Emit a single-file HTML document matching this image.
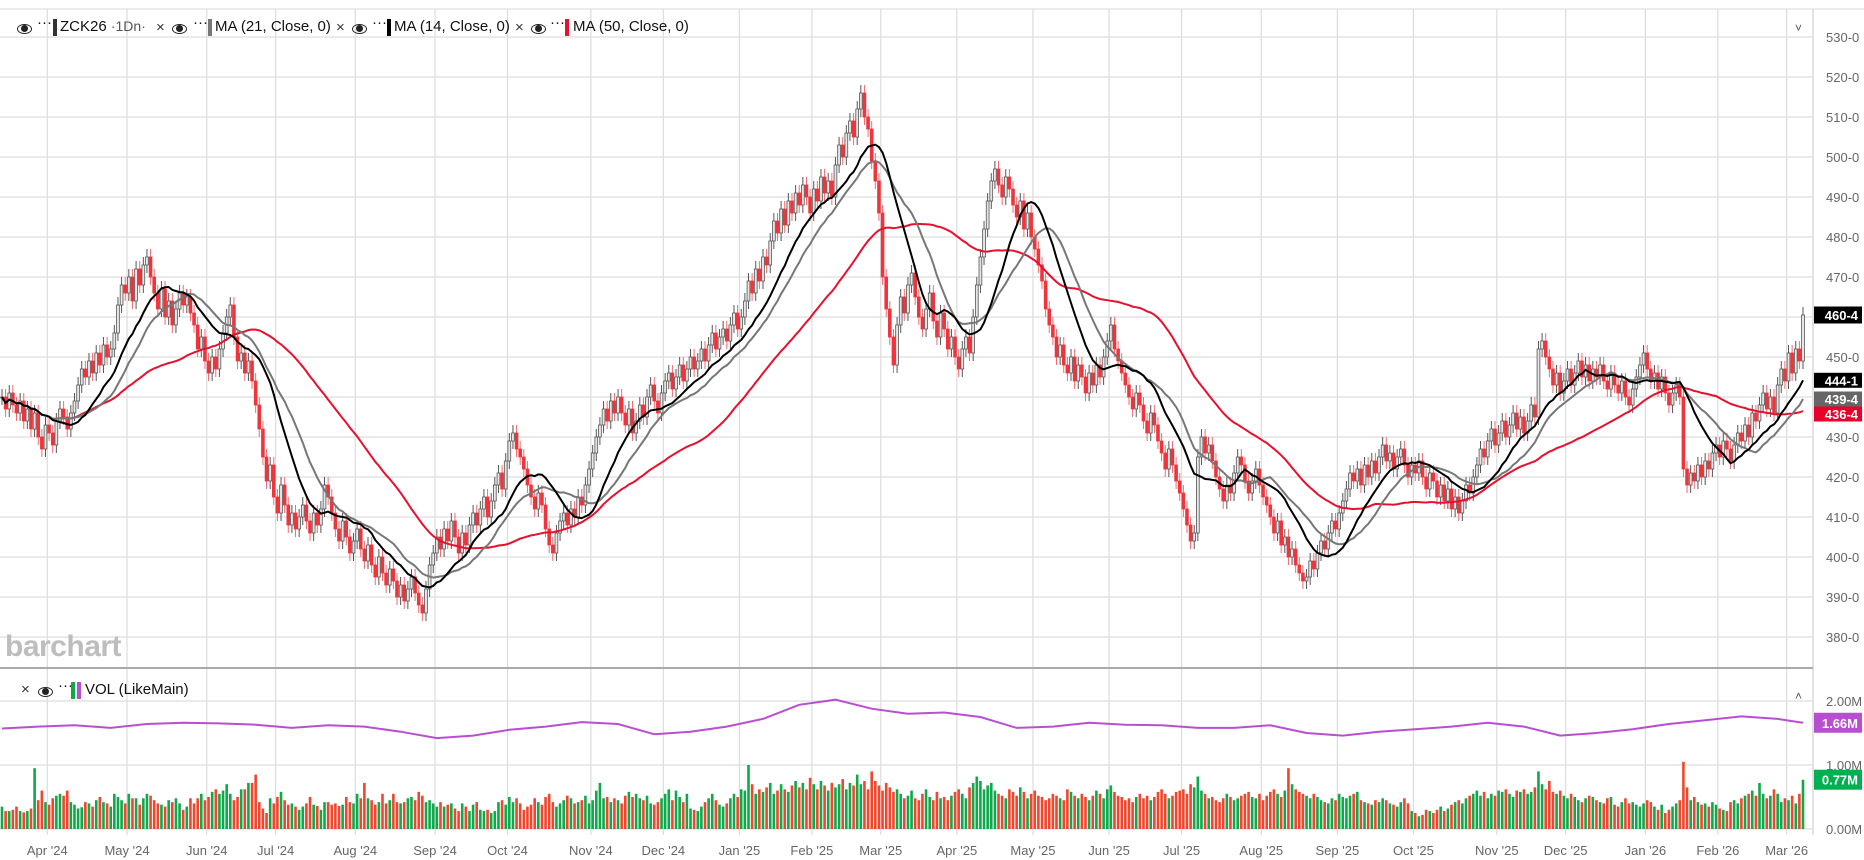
<!DOCTYPE html>
<html><head><meta charset="utf-8"><style>
html,body{margin:0;padding:0;background:#fff;}
body{width:1864px;height:860px;position:relative;overflow:hidden;font-family:"Liberation Sans",sans-serif;}
svg{position:absolute;left:0;top:0;}
.lg{position:absolute;font-size:15px;color:#111;white-space:nowrap;}
.eye{position:absolute;width:13px;height:8px;border:1.5px solid #222;border-radius:50%;}
.eye:after{content:"";position:absolute;left:3px;top:0px;width:7px;height:7px;border-radius:50%;background:#222;}
.sw{position:absolute;width:4px;height:17px;}
</style></head><body>
<svg id="chart" width="1864" height="860"></svg>

<div>
<span class="eye" style="left:17px;top:24px"></span>
<span class="lg" style="left:37px;top:14px">···</span>
<span class="sw" style="left:53px;top:19px;background:#333"></span>
<span class="lg" style="left:60px;top:18px">ZCK26 <span style="color:#555;font-size:14px">·1Dn·</span></span>
<span class="lg" style="left:156px;top:19px;color:#333">×</span>
<span class="eye" style="left:172px;top:24px"></span>
<span class="lg" style="left:193px;top:14px">···</span>
<span class="sw" style="left:208px;top:19px;background:#777"></span>
<span class="lg" style="left:215px;top:18px">MA (21, Close, 0)</span>
<span class="lg" style="left:336px;top:19px;color:#333">×</span>
<span class="eye" style="left:352px;top:24px"></span>
<span class="lg" style="left:372px;top:14px">···</span>
<span class="sw" style="left:387px;top:19px;background:#000"></span>
<span class="lg" style="left:394px;top:18px">MA (14, Close, 0)</span>
<span class="lg" style="left:515px;top:19px;color:#333">×</span>
<span class="eye" style="left:531px;top:24px"></span>
<span class="lg" style="left:550px;top:14px">···</span>
<span class="sw" style="left:565px;top:19px;background:#e8102e"></span>
<span class="lg" style="left:573px;top:18px">MA (50, Close, 0)</span>
</div>
<div>
<span class="lg" style="left:21px;top:681px;color:#333">×</span>
<span class="eye" style="left:38px;top:687px"></span>
<span class="lg" style="left:58px;top:677px">···</span>
<span class="sw" style="left:71px;top:682px;background:#0fa84a"></span>
<span class="sw" style="left:77px;top:682px;background:#b84fd0"></span>
<span class="lg" style="left:85px;top:681px">VOL (LikeMain)</span>
</div>
<div class="lg" style="left:5px;top:630px;font-size:30px;font-weight:bold;color:#bdbdbd;letter-spacing:-0.5px">barchart</div>

<script>
const closes=[440,437,441,438,436,439,434,437,432,436,
430,427,433,431,428,434,437,435,432,436,
439,443,447,445,449,446,451,448,453,450,
452,456,463,468,466,470,464,472,468,473,
475,470,466,462,467,460,464,458,462,466,
463,465,461,458,452,455,449,446,450,447,
452,456,460,463,455,449,451,446,449,444,
438,432,425,419,423,415,411,418,413,408,
411,407,410,413,409,406,411,408,412,418,
415,411,407,404,409,405,401,404,407,402,
399,403,398,395,400,396,393,397,394,390,
393,389,392,395,391,388,386,392,398,401,
405,402,407,404,409,405,401,406,403,408,
411,408,412,415,410,414,418,421,417,424,
429,431,427,425,422,418,415,412,416,413,
407,403,401,406,409,411,408,412,410,415,
413,418,422,426,430,433,437,434,439,436,
440,436,433,437,431,434,438,435,440,443,
439,436,441,444,446,442,445,448,444,447,
450,447,449,452,449,453,456,452,455,457,
454,458,461,457,460,464,469,466,472,469,
475,473,479,484,481,487,483,489,486,491,
488,493,490,486,492,489,495,491,494,490,
498,503,500,506,509,505,512,516,510,507,
499,494,486,470,462,455,448,458,465,461,
468,471,465,460,457,462,466,459,455,461,
457,452,455,450,447,452,455,451,460,468,
475,482,489,494,497,493,490,495,492,488,
485,489,482,486,480,477,473,469,462,458,
455,450,453,448,446,450,444,448,445,441,
446,443,448,445,450,454,458,452,449,446,
443,440,437,441,438,434,431,436,433,429,
426,422,427,423,419,416,412,408,404,406,
425,430,426,428,424,420,417,414,418,416,
421,425,423,419,416,419,422,418,415,413,
410,406,409,403,405,400,402,398,396,394,
395,399,397,401,404,402,406,409,407,411,
414,417,421,419,422,418,423,420,424,421,
425,428,424,426,422,425,427,423,420,423,
421,424,420,417,421,419,415,418,414,417,
412,415,411,414,418,416,420,423,427,425,
429,432,428,431,434,430,433,436,432,435,
431,434,438,435,452,454,450,447,443,446,
441,444,447,443,446,449,445,448,444,447,
445,448,444,442,446,443,441,444,440,438,
442,445,448,451,447,444,446,442,445,441,
438,441,443,440,422,418,421,419,423,420,
424,422,426,428,425,429,427,424,428,431,
429,433,430,436,434,438,441,437,440,436,
443,447,444,451,446,452,449,460.5];
const volumes=[35,28,28,30,35,28,26,28,32,95,45,60,42,38,48,52,55,52,60,42,
38,32,34,42,40,35,45,50,42,40,35,55,50,45,40,55,48,48,38,48,
55,52,45,40,38,35,45,42,48,40,30,35,48,40,48,55,45,50,58,62,
55,60,70,55,45,50,62,62,72,72,85,42,32,25,48,40,50,58,45,38,
40,35,30,35,40,50,38,36,30,42,42,38,40,36,38,50,42,40,55,48,
72,48,45,38,42,55,40,45,55,42,40,42,48,50,45,58,52,42,45,40,
35,42,35,38,40,32,28,40,35,28,38,42,30,28,30,25,28,42,45,38,
50,42,48,40,30,35,38,48,42,38,50,55,42,35,40,45,52,48,40,42,
45,52,40,45,60,72,48,50,42,48,45,40,52,58,50,55,48,45,52,40,
38,42,48,55,62,45,60,50,42,55,32,30,28,35,42,48,55,45,38,35,
40,48,55,50,62,60,100,70,55,62,58,65,72,55,60,70,62,58,68,75,
65,72,62,80,70,62,75,68,60,72,65,70,78,62,72,68,85,70,75,62,
90,75,68,60,72,65,58,62,55,48,52,60,48,45,55,62,50,45,58,48,
50,45,52,58,62,55,48,65,72,82,75,62,68,72,60,55,52,48,62,58,
52,65,58,48,55,60,52,50,45,48,55,52,48,45,62,58,52,48,55,50,
45,52,60,55,48,62,68,58,52,50,45,48,42,50,55,48,52,45,50,58,
62,55,48,52,58,60,62,55,70,65,82,60,55,48,50,45,42,48,55,50,
45,48,52,55,58,50,48,55,45,52,58,62,55,50,60,95,70,62,58,55,
52,48,55,50,45,42,40,48,45,55,50,48,52,55,58,45,42,40,38,45,
42,48,45,40,38,35,42,48,40,28,25,20,22,30,28,25,30,35,28,32,
38,42,45,40,48,52,55,60,52,58,48,55,52,60,58,62,55,50,60,58,
62,55,58,65,90,70,62,75,58,55,60,52,48,55,50,45,42,48,52,50,
45,42,40,48,50,38,35,42,48,40,42,38,35,40,45,42,35,30,38,25,
30,35,40,45,105,65,45,50,42,38,40,35,42,38,32,30,28,42,45,40,
48,52,55,60,52,72,55,48,52,62,55,42,48,45,52,40,55,77];
const oiValues=[1.57,1.60,1.62,1.58,1.64,1.66,1.65,1.63,1.58,1.62,1.60,1.52,1.42,1.46,1.55,1.60,1.67,1.64,1.48,1.52,
1.60,1.72,1.94,2.02,1.88,1.80,1.82,1.75,1.58,1.60,1.66,1.63,1.62,1.58,1.58,1.62,1.50,1.46,1.52,1.56,
1.60,1.66,1.60,1.46,1.50,1.56,1.64,1.70,1.76,1.72,1.66];
const monthLabels=["Apr '24","May '24","Jun '24","Jul '24","Aug '24","Sep '24","Oct '24","Nov '24","Dec '24","Jan '25","Feb '25","Mar '25","Apr '25","May '25","Jun '25","Jul '25","Aug '25","Sep '25","Oct '25","Nov '25","Dec '25","Jan '26","Feb '26","Mar '26"];
const monthBars=[13,22,22,19,22,22,20,23,20,21,20,19,21,21,21,20,22,21,21,23,19,22,20,19];
const priceTicks=[380,390,400,410,420,430,440,450,460,470,480,490,500,510,520,530];
const volTicks=[0,1,2];

const NS="http://www.w3.org/2000/svg";
const svg=document.getElementById('chart');
const N=closes.length, PR=1813;
const step=(1803-2)/(N-1);
const xB=i=>2+i*step;
const yP=p=>37+(530-p)*4;
const yV=v=>829-v*64;
function mk(tag,attrs,parent){const e=document.createElementNS(NS,tag);for(const k in attrs)e.setAttribute(k,attrs[k]);(parent||svg).appendChild(e);return e;}
function fmt8(v){let w=Math.floor(v),f=Math.round((v-w)*8);if(f===8){w++;f=0;}return w+'-'+f;}

let e;
e=mk('line',{x1:0,y1:9,x2:1864,y2:9,stroke:'#d8d8d8','stroke-width':1});


e=mk('line',{x1:PR,y1:9,x2:PR,y2:835,stroke:'#d8d8d8','stroke-width':1.5});


priceTicks.forEach(p=>{
  e=mk('line',{x1:0,y1:yP(p),x2:PR,y2:yP(p),stroke:'#e4e4e4','stroke-width':1.5});
  
  
  e=mk('text',{x:1826,y:yP(p)+5,'font-size':13,fill:'#666','font-family':'Liberation Sans, sans-serif'});
  e.textContent=fmt8(p);
  
  
});
volTicks.forEach(v=>{
  e=mk('line',{x1:0,y1:yV(v),x2:PR,y2:yV(v),stroke:'#e4e4e4','stroke-width':1.5});
  
  
  e=mk('text',{x:1826,y:yV(v)+5,'font-size':13,fill:'#666','font-family':'Liberation Sans, sans-serif'});
  e.textContent=v.toFixed(2)+'M';
  
  
});
let cum=0;
monthBars.forEach((c,k)=>{
  cum+=c;
  const x=xB(cum)-step/2;
  e=mk('line',{x1:x,y1:9,x2:x,y2:835,stroke:'#dcdcdc','stroke-width':1.2});
  
  
  e=mk('text',{x:x,y:855,'font-size':13,fill:'#666','text-anchor':'middle','font-family':'Liberation Sans, sans-serif'});
  e.textContent=monthLabels[k];
  
  
});
e=mk('line',{x1:0,y1:668,x2:PR,y2:668,stroke:'#aaa','stroke-width':2});


e=mk('text',{x:1795,y:32,'font-size':12,fill:'#555'});e.textContent='˅';


e=mk('text',{x:1795,y:700,'font-size':12,fill:'#555'});e.textContent='˄';



const cg=mk('g',{});


for(let i=0;i<N;i++){
  const o=i>0?closes[i-1]:closes[i],c=closes[i];
  const up=c>=o, x=xB(i);
  const hi=Math.max(o,c)+2, lo=Math.min(o,c)-2;
  const col=up?'#555':'#f0343c';
  e=mk('line',{x1:x,y1:yP(hi),x2:x,y2:yP(lo),stroke:up?'#555':'#f36a70','stroke-width':1},cg);
  
  
  const t=yP(Math.max(o,c)),b=yP(Math.min(o,c));
  e=mk('rect',{x:x-1.4,y:t,width:2.8,height:Math.max(1,b-t),fill:up?'#e6e6e6':'#f0343c',stroke:col,'stroke-width':0.8},cg);
  
  
}
function sma(n){return closes.map((_,i)=>{const s=Math.max(0,i-n+1);let t=0;for(let j=s;j<=i;j++)t+=closes[j];return t/(i-s+1);});}
const ma14=sma(14),ma21=sma(21),ma50=sma(50);
[[ma50,'#e8102e','ma50-line'],[ma21,'#777','ma21-line'],[ma14,'#000','ma14-line']].forEach(([m,col,nm])=>{
  e=mk('path',{d:m.map((v,i)=>(i?'L':'M')+xB(i).toFixed(1)+' '+yP(v).toFixed(1)).join(''),fill:'none',stroke:col,'stroke-width':2});
  
  
});
const vg=mk('g',{});


volumes.forEach((v,i)=>{
  const up=i===0||closes[i]>=closes[i-1];
  e=mk('rect',{x:xB(i)-1.3,y:yV(v/100),width:2.6,height:v/100*64,fill:up?'#0fa84a':'#f0462d'},vg);
  
  
});
e=mk('path',{d:oiValues.map((v,k)=>(k?'L':'M')+xB(Math.min(k*10,N-1)).toFixed(1)+' '+yV(v).toFixed(1)).join(''),fill:'none',stroke:'#b84fd0','stroke-width':2});



function tag(y,txt,bg,nm,h){
  const g=mk('g',{});
  
  
  mk('rect',{x:1814,y:y-h/2,width:48,height:h,fill:bg},g);
  const t=mk('text',{x:1858,y:y+5,'font-size':13,'font-weight':'bold',fill:'#fff','text-anchor':'end','font-family':'Liberation Sans, sans-serif'},g);
  t.textContent=txt;
}
const L=N-1;
let ys=[yP(ma14[L]),yP(ma21[L]),yP(ma50[L])];
ys[1]=Math.max(ys[1],ys[0]+15);ys[2]=Math.max(ys[2],ys[1]+15);
tag(yP(closes[L]),fmt8(closes[L]),'#000','last-price-tag',17);
tag(ys[0],fmt8(ma14[L]),'#000','ma14-value-tag',15);
tag(ys[1],fmt8(ma21[L]),'#666','ma21-value-tag',15);
tag(ys[2],fmt8(ma50[L]),'#e8002a','ma50-value-tag',15);
tag(yV(oiValues[oiValues.length-1]),oiValues[oiValues.length-1].toFixed(2)+'M','#b84fd0','volume-average-tag',20);
tag(yV(volumes[L]/100),(volumes[L]/100).toFixed(2)+'M','#00b050','last-volume-tag',20);
</script>
</body></html>
